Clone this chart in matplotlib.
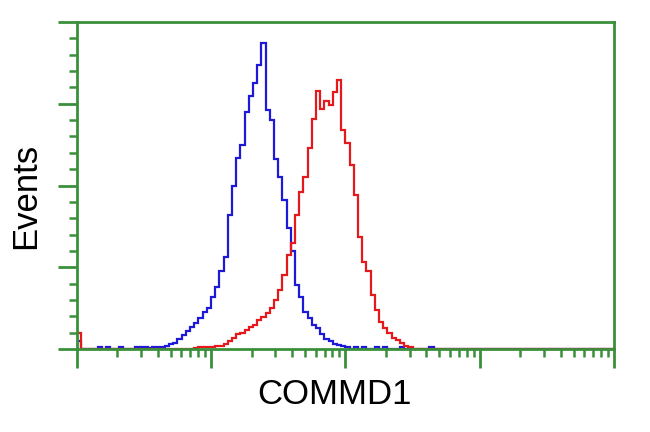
import matplotlib.pyplot as plt
import numpy as np

# 128 log channels over 4 decades (10^0 .. 10^4)
n_channels = 128

# counts per channel (channel index -> count)
blue_channels = [0, 5, 7, 10, 14, 15, 16, 17, 18, 19, 20, 21, 22, 23, 24, 25, 26, 27, 28, 29,
                 30, 31, 32, 33, 34, 35, 36, 37, 38, 39, 40, 41, 42, 43, 44, 45, 46, 47, 48, 49,
                 50, 51, 52, 53, 54, 55, 56, 57, 58, 59, 60, 61, 62, 63, 64, 66, 68, 71, 73, 77, 84]
blue_counts = [5, 1, 1, 1, 1, 1, 1, 0.5, 1, 1, 1, 2, 3, 4, 6, 8.5, 11, 13.5, 16, 19,
               22.5, 25, 32, 38, 48, 56, 82, 100, 117, 125, 145, 155, 163, 174, 187, 146, 140, 116, 105, 91,
               74, 60, 39, 32, 22.5, 19, 15, 13, 9, 6, 5, 3, 2.5, 2, 1, 1, 1, 1, 1, 1, 1]

red_channels = [0, 28, 29, 30, 31, 32, 33, 34, 35, 36, 37, 38, 39, 40, 41, 42, 43, 44, 45, 46,
                47, 48, 49, 50, 51, 52, 53, 54, 55, 56, 57, 58, 59, 60, 61, 62, 63, 64, 65, 66,
                67, 68, 69, 70, 71, 72, 73, 74, 75, 76, 77, 78, 79]
red_counts = [10, 0.5, 1, 1, 1, 1.5, 2, 2, 3, 5, 7, 9, 10, 11.5, 13.5, 15, 17.5, 19.5, 22, 25,
              30, 36, 45, 57.5, 65, 82, 96, 105, 123, 141, 158, 147, 152, 149, 157, 164.5, 134, 126, 112.5, 94,
              68.5, 53, 48, 33, 24, 16.5, 13, 10, 7, 5.5, 3.5, 2, 1]

green = "#3a8f3a"

blue = np.zeros(n_channels)
blue[blue_channels] = blue_counts
red = np.zeros(n_channels)
red[red_channels] = red_counts
edges = np.logspace(0, 4, n_channels + 1)

fig = plt.figure(figsize=(6.5, 4.32), dpi=100)
ax = fig.add_axes([0.118, 0.192, 0.827, 0.757])

ax.stairs(blue, edges, color="#1c1ad8", lw=1.6)
ax.stairs(red, edges, color="#e5191c", lw=1.6)

ax.set_xscale("log")
ax.set_xlim(1, 1e4)
ax.set_ylim(0, 200)
ax.set_yticks(np.arange(0, 201, 50))
ax.set_yticks(np.arange(0, 201, 10), minor=True)

for s in ax.spines.values():
    s.set_color(green)
    s.set_linewidth(2)

ax.tick_params(which="major", direction="out", length=14, width=2, color=green,
               labelbottom=False, labelleft=False)
ax.tick_params(which="minor", direction="out", length=6, width=1.8, color=green,
               labelbottom=False, labelleft=False)
ax.xaxis.set_minor_formatter(plt.NullFormatter())

fig.text(0.039, 0.546, "Events", rotation=90, ha="center", va="center",
         fontsize=25, family="Liberation Sans")
fig.text(0.515, 0.086, "COMMD1", ha="center", va="center",
         fontsize=25, family="Liberation Sans")

fig.savefig("out.png", dpi=100)
